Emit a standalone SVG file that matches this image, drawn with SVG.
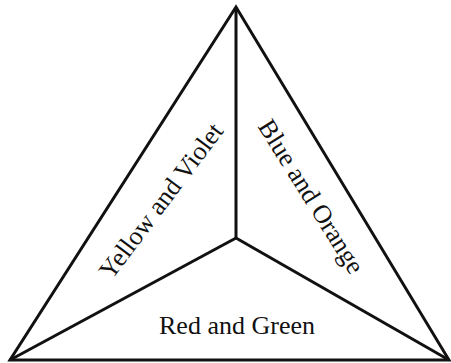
<svg xmlns="http://www.w3.org/2000/svg" width="451" height="363" viewBox="0 0 451 363">
<style>
.ln{stroke:#111;stroke-width:3;fill:none;stroke-linejoin:miter}
.t{font-family:"Liberation Serif","Times New Roman",serif;font-size:26px;fill:#111;text-anchor:middle}
</style>
<rect width="451" height="363" fill="#fff"/>
<g id="connectors">
<polygon class="ln" points="236,7 10,360 449,360"/>
<line class="ln" x1="236" y1="7" x2="236" y2="238"/>
<line class="ln" x1="236" y1="238" x2="10" y2="360"/>
<line class="ln" x1="236" y1="238" x2="449" y2="360"/>
</g>
<g id="yellow-violet"><text class="t" transform="translate(168,206) rotate(-53)">Yellow and Violet</text></g>
<g id="blue-orange"><text class="t" transform="translate(304,201) rotate(58)">Blue and Orange</text></g>
<g id="red-green"><text class="t" x="237" y="334">Red and Green</text></g>
</svg>
